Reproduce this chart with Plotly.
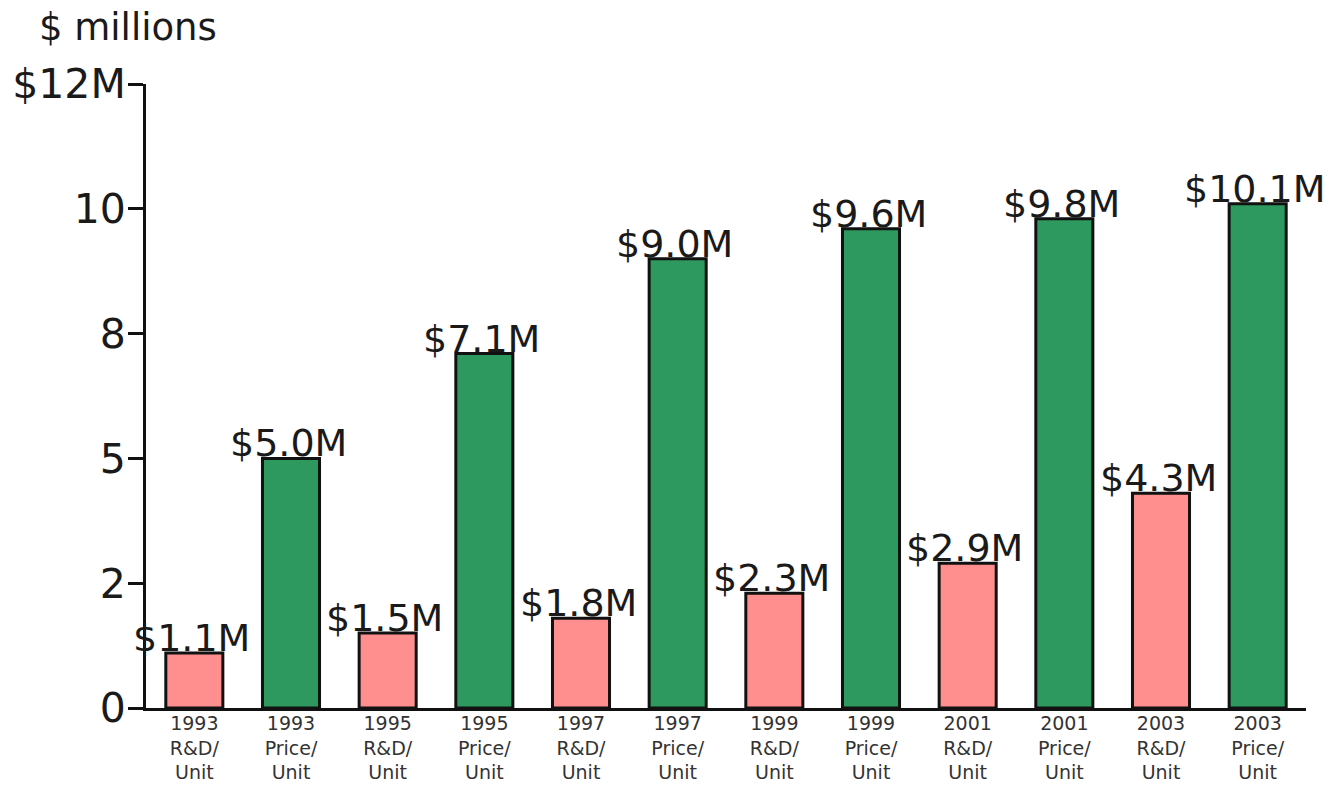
import plotly.graph_objects as go

# ---- data ----
years = ["1993", "1993", "1995", "1995", "1997", "1997", "1999", "1999", "2001", "2001", "2003", "2003"]
kinds = ["R&D/", "Price/", "R&D/", "Price/", "R&D/", "Price/", "R&D/", "Price/", "R&D/", "Price/", "R&D/", "Price/"]
values = [1.1, 5.0, 1.5, 7.1, 1.8, 9.0, 2.3, 9.6, 2.9, 9.8, 4.3, 10.1]
value_labels = ["$1.1M", "$5.0M", "$1.5M", "$7.1M", "$1.8M", "$9.0M",
                "$2.3M", "$9.6M", "$2.9M", "$9.8M", "$4.3M", "$10.1M"]
y_tickvals = [0, 2.5, 5, 7.5, 10, 12.5]
y_ticktext = ["0", "2", "5", "8", "10", "$12M"]

kind_colors = {"R&D/": "#FF8F8F", "Price/": "#2E995E"}

categories = [f"{y}<br>{k}<br>Unit" for y, k in zip(years, kinds)]
colors = [kind_colors[k] for k in kinds]

FONT = "DejaVu Sans"

fig = go.Figure()
fig.add_trace(go.Bar(
    x=categories,
    y=values,
    marker=dict(color=colors, line=dict(color="#111111", width=3)),
    width=0.59,
    hoverinfo="x+y",
))

for c, v, t in zip(categories, values, value_labels):
    fig.add_annotation(
        x=c, y=v, text=t, showarrow=False,
        xanchor="center", yanchor="bottom", yshift=-9, xshift=-3,
        font=dict(family=FONT, size=38, color="#1a1a1a"),
    )

fig.add_annotation(
    xref="paper", yref="paper", x=-0.094, y=1.09,
    text="$ millions", showarrow=False, xanchor="left", yanchor="middle",
    font=dict(family=FONT, size=37, color="#1a1a1a"),
)

fig.update_layout(
    width=1328, height=785,
    margin=dict(l=146, r=22, t=84, b=77),
    paper_bgcolor="white", plot_bgcolor="white",
    showlegend=False,
    bargap=0.41,
    font=dict(family=FONT),
)
fig.update_xaxes(
    automargin=False,
    range=[-0.5, len(categories) - 0.5],
    showgrid=False, zeroline=False,
    showline=True, linecolor="#111111", linewidth=3,
    ticks="", tickfont=dict(family=FONT, size=19, color="#333333"),
    tickangle=0, ticklabelstandoff=-4,
)
fig.update_yaxes(
    automargin=False,
    range=[0, 12.5], showgrid=False, zeroline=False,
    showline=True, linecolor="#111111", linewidth=3,
    ticks="outside", ticklen=15, tickwidth=3, tickcolor="#111111",
    tickvals=y_tickvals, ticktext=y_ticktext,
    tickfont=dict(family=FONT, size=41, color="#1a1a1a"),
    ticklabelstandoff=-6,
)

fig.write_html(
    "out.html",
    config={"displayModeBar": False},
    post_script="document.body.style.margin='0';document.body.style.overflow='hidden';",
)
